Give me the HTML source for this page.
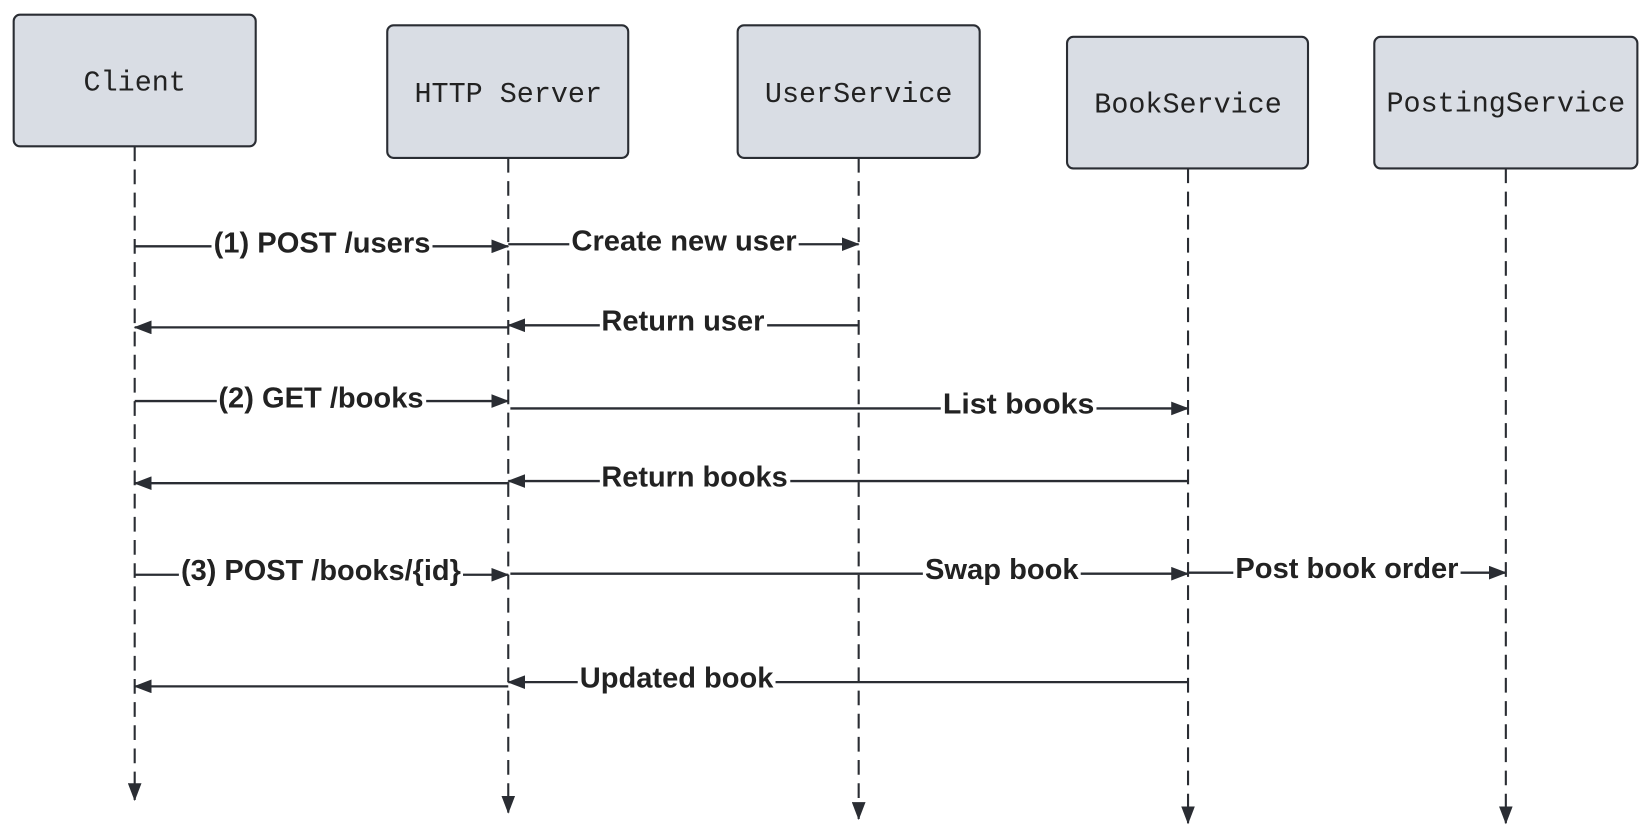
<!DOCTYPE html>
<html><head><meta charset="utf-8"><style>
html,body{margin:0;padding:0;background:#fff;}
svg{display:block;}
.box{fill:#d9dde4;stroke:#2a2d33;stroke-width:2;}
.lbl{font-family:"Liberation Mono",monospace;font-size:27px;fill:#222;text-anchor:middle;}
.life{stroke:#2a2d33;stroke-width:2;stroke-dasharray:14,8;fill:none;}
.msg{stroke:#2a2d33;stroke-width:2.2;fill:none;}
.t{font-family:"Liberation Sans",sans-serif;font-weight:bold;font-size:27px;fill:#222;text-anchor:middle;}
.bg{fill:#fff;}
</style></head><body>
<svg width="1650" height="839" viewBox="0 0 1568 797" preserveAspectRatio="none">
<defs>
<marker id="a" markerWidth="17" markerHeight="13" refX="16" refY="6.5" orient="auto" markerUnits="userSpaceOnUse">
<path d="M0,0 L17,6.5 L0,13 Z" fill="#2a2d33"/></marker>
</defs>
<line class="life" x1="128" y1="139" x2="128" y2="760" marker-end="url(#a)"/>
<line class="life" x1="483" y1="150" x2="483" y2="772" marker-end="url(#a)"/>
<line class="life" x1="816" y1="150" x2="816" y2="778" marker-end="url(#a)"/>
<line class="life" x1="1129" y1="160" x2="1129" y2="782" marker-end="url(#a)"/>
<line class="life" x1="1431" y1="160" x2="1431" y2="782" marker-end="url(#a)"/>
<rect class="box" x="13" y="14" width="230" height="125" rx="6"/>
<text class="lbl" x="128" y="86">Client</text>
<rect class="box" x="368" y="24" width="229" height="126" rx="6"/>
<text class="lbl" x="483" y="97">HTTP Server</text>
<rect class="box" x="701" y="24" width="230" height="126" rx="6"/>
<text class="lbl" x="816" y="97">UserService</text>
<rect class="box" x="1014" y="35" width="229" height="125" rx="6"/>
<text class="lbl" x="1129" y="107">BookService</text>
<rect class="box" x="1306" y="35" width="250" height="125" rx="6"/>
<text class="lbl" x="1431" y="106">PostingService</text>

<line class="msg" x1="128" y1="234" x2="483" y2="234" marker-end="url(#a)"/>
<rect class="bg" x="201" y="216" width="210" height="30"/>
<text class="t" x="306" y="240" textLength="206" lengthAdjust="spacingAndGlyphs">(1) POST /users</text>

<line class="msg" x1="483" y1="232" x2="816" y2="232" marker-end="url(#a)"/>
<rect class="bg" x="541" y="214" width="218" height="30"/>
<text class="t" x="650" y="238" textLength="214" lengthAdjust="spacingAndGlyphs">Create new user</text>

<line class="msg" x1="816" y1="309" x2="483" y2="309" marker-end="url(#a)"/>
<line class="msg" x1="483" y1="311" x2="128" y2="311" marker-end="url(#a)"/>
<rect class="bg" x="570" y="290" width="159" height="30"/>
<text class="t" x="649" y="314" textLength="155" lengthAdjust="spacingAndGlyphs">Return user</text>

<line class="msg" x1="128" y1="381" x2="483" y2="381" marker-end="url(#a)"/>
<rect class="bg" x="206" y="362" width="199" height="30"/>
<text class="t" x="305" y="387" textLength="195" lengthAdjust="spacingAndGlyphs">(2) GET /books</text>

<line class="msg" x1="485" y1="388" x2="1129" y2="388" marker-end="url(#a)"/>
<rect class="bg" x="894" y="368" width="148" height="30"/>
<text class="t" x="968" y="393" textLength="144" lengthAdjust="spacingAndGlyphs">List  books</text>

<line class="msg" x1="1129" y1="457" x2="483" y2="457" marker-end="url(#a)"/>
<line class="msg" x1="483" y1="459" x2="128" y2="459" marker-end="url(#a)"/>
<rect class="bg" x="570" y="437" width="181" height="30"/>
<text class="t" x="660" y="462" textLength="177" lengthAdjust="spacingAndGlyphs">Return books</text>

<line class="msg" x1="128" y1="546" x2="483" y2="546" marker-end="url(#a)"/>
<rect class="bg" x="170" y="526" width="270" height="32"/>
<text class="t" x="305" y="551" textLength="266" lengthAdjust="spacingAndGlyphs">(3) POST /books/{id}</text>

<line class="msg" x1="485" y1="545" x2="1129" y2="545" marker-end="url(#a)"/>
<rect class="bg" x="877" y="525" width="150" height="32"/>
<text class="t" x="952" y="550" textLength="146" lengthAdjust="spacingAndGlyphs">Swap book</text>

<line class="msg" x1="1129" y1="544" x2="1431" y2="544" marker-end="url(#a)"/>
<rect class="bg" x="1172" y="524" width="216" height="30"/>
<text class="t" x="1280" y="549" textLength="212" lengthAdjust="spacingAndGlyphs">Post book order</text>

<line class="msg" x1="1129" y1="648" x2="483" y2="648" marker-end="url(#a)"/>
<line class="msg" x1="483" y1="652" x2="128" y2="652" marker-end="url(#a)"/>
<rect class="bg" x="549" y="628" width="188" height="32"/>
<text class="t" x="643" y="653" textLength="184" lengthAdjust="spacingAndGlyphs">Updated book</text>
</svg>
</body></html>
